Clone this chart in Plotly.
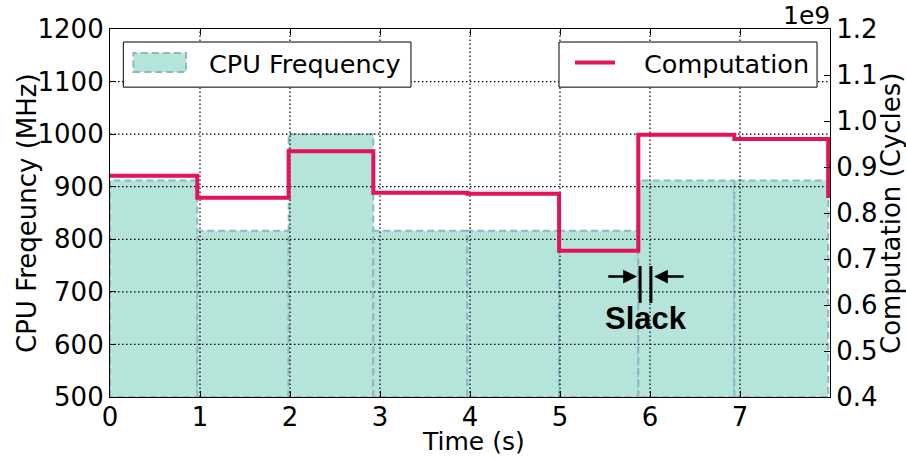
import plotly.graph_objects as go

# Segment start times (s); the last entry is where the final step occurs
seg_times = [0.0, 0.97, 1.985, 2.926, 3.97, 4.99, 5.87, 6.937, 7.98]
# CPU frequency per segment (MHz)
cpu_freq = [912, 816, 1000, 816, 816, 816, 912, 912]
# Computation per segment (cycles); last value applies after the final step
computation = [0.881e9, 0.833e9, 0.934e9, 0.844e9, 0.842e9, 0.718e9, 0.970e9, 0.961e9, 0.837e9]

x_ticks = [0, 1, 2, 3, 4, 5, 6, 7]
freq_ticks = [500, 600, 700, 800, 900, 1000, 1100, 1200]
cycle_ticks = [0.4e9, 0.5e9, 0.6e9, 0.7e9, 0.8e9, 0.9e9, 1.0e9, 1.1e9, 1.2e9]
cycle_tick_text = ["0.4", "0.5", "0.6", "0.7", "0.8", "0.9", "1.0", "1.1", "1.2"]

# Slack marker bounds (s), arrow height and label height (MHz)
slack_bounds = [5.89, 6.01]
slack_span = [679, 749]
slack_arrow_y = 729
slack_label_y = 650

X_MAX = 8.0
FREQ_RANGE = [500, 1200]
CYCLE_RANGE = [0.4e9, 1.2e9]

FONT = "DejaVu Sans"
FS = 26
FILL = "#b4e4da"
EDGE = "#8fb6c4"
PINK = "#e2125c"

fig = go.Figure()

# Frequency bars: one closed, dashed-outline polygon per segment
for i, f in enumerate(cpu_freq):
    x0, x1 = seg_times[i], seg_times[i + 1]
    base = FREQ_RANGE[0]
    fig.add_trace(go.Scatter(
        x=[x0, x0, x1, x1, x0], y=[base, f, f, base, base],
        mode="lines", fill="toself", fillcolor=FILL,
        line=dict(color=EDGE, width=2, dash="7px,4px"),
        hoverinfo="skip", showlegend=False, xaxis="x", yaxis="y",
    ))

# Dotted grid drawn over the bars
gx, gy = [], []
for t in x_ticks[1:]:
    gx += [t, t, None]
    gy += [FREQ_RANGE[0], FREQ_RANGE[1], None]
for v in freq_ticks[1:-1]:
    gx += [0, X_MAX, None]
    gy += [v, v, None]
fig.add_trace(go.Scatter(
    x=gx, y=gy, mode="lines",
    line=dict(color="black", width=1.2, dash="1.5px,2.5px"),
    hoverinfo="skip", showlegend=False, xaxis="x", yaxis="y",
))

# Computation step line on the secondary axis
line_x = seg_times + [X_MAX]
line_y = computation + [computation[-1]]
fig.add_trace(go.Scatter(
    x=line_x, y=line_y, mode="lines", line_shape="hv",
    line=dict(color=PINK, width=4),
    hoverinfo="skip", showlegend=False, xaxis="x", yaxis="y2",
))

shapes = []
annotations = []

# Slack markers
for sx in slack_bounds:
    shapes.append(dict(type="line", xref="x", yref="y",
                       x0=sx, x1=sx, y0=slack_span[0], y1=slack_span[1],
                       line=dict(color="black", width=3), layer="above"))
annotations.append(dict(x=slack_bounds[0] - 0.035, y=slack_arrow_y, ax=slack_bounds[0] - 0.37,
                        ay=slack_arrow_y, xref="x", yref="y", axref="x", ayref="y",
                        text="", showarrow=True, arrowhead=2, arrowsize=1.1,
                        arrowwidth=2.5, arrowcolor="black"))
annotations.append(dict(x=slack_bounds[1] + 0.035, y=slack_arrow_y, ax=slack_bounds[1] + 0.38,
                        ay=slack_arrow_y, xref="x", yref="y", axref="x", ayref="y",
                        text="", showarrow=True, arrowhead=2, arrowsize=1.1,
                        arrowwidth=2.5, arrowcolor="black"))
annotations.append(dict(x=sum(slack_bounds) / 2, y=slack_label_y, xref="x", yref="y",
                        xanchor="center", yanchor="middle",
                        text="<b>Slack</b>", showarrow=False,
                        font=dict(family="Liberation Sans", size=31, color="black")))

# Legend boxes
shapes.append(dict(type="rect", xref="paper", yref="paper", x0=0.0185, x1=0.418,
                   y0=0.842, y1=0.9646, fillcolor="white",
                   line=dict(color="black", width=1), layer="above"))
shapes.append(dict(type="rect", xref="paper", yref="paper", x0=0.0324, x1=0.1056,
                   y0=0.883, y1=0.9347, fillcolor=FILL,
                   line=dict(color=EDGE, width=2, dash="7px,4px"), layer="above"))
annotations.append(dict(x=0.1343, y=0.906, xref="paper", yref="paper", xanchor="left",
                        yanchor="middle", text="CPU Frequency", showarrow=False,
                        font=dict(family=FONT, size=25.5, color="black")))
shapes.append(dict(type="rect", xref="paper", yref="paper", x0=0.6236, x1=0.982,
                   y0=0.842, y1=0.9646, fillcolor="white",
                   line=dict(color="black", width=1), layer="above"))
shapes.append(dict(type="line", xref="paper", yref="paper", x0=0.6458, x1=0.7014,
                   y0=0.9091, y1=0.9091, line=dict(color=PINK, width=4), layer="above"))
annotations.append(dict(x=0.7385, y=0.906, xref="paper", yref="paper", xanchor="left",
                        yanchor="middle", text="Computation", showarrow=False,
                        font=dict(family=FONT, size=25.5, color="black")))

# Axis titles and offset label
annotations.append(dict(x=-0.1153, y=0.5, xref="paper", yref="paper", textangle=-90,
                        xanchor="center", yanchor="middle",
                        text="CPU Freqeuncy (MHz)", showarrow=False,
                        font=dict(family=FONT, size=FS, color="black")))
annotations.append(dict(x=1.0847, y=0.5, xref="paper", yref="paper", textangle=-90,
                        xanchor="center", yanchor="middle",
                        text="Computation (Cycles)", showarrow=False,
                        font=dict(family=FONT, size=FS, color="black")))
annotations.append(dict(x=0.5048, y=-0.12, xref="paper", yref="paper",
                        xanchor="center", yanchor="middle", borderpad=0,
                        text="Time (s)", showarrow=False,
                        font=dict(family=FONT, size=25, color="black")))
annotations.append(dict(x=1.003, y=1.038, xref="paper", yref="paper", xanchor="right",
                        yanchor="middle", text="1e9", showarrow=False,
                        font=dict(family=FONT, size=25, color="black")))

axis_common = dict(showline=True, linecolor="black", linewidth=1.2, ticks="inside",
                   ticklen=6, tickcolor="black", showgrid=False, zeroline=False,
                   tickfont=dict(family=FONT, size=FS, color="black"))

fig.update_layout(
    width=906, height=459,
    margin=dict(l=110, r=76, t=29, b=62),
    paper_bgcolor="white", plot_bgcolor="white",
    showlegend=False,
    xaxis=dict(range=[0, X_MAX], tickvals=x_ticks, mirror="ticks",
               ticklabelstandoff=-3, **axis_common),
    yaxis=dict(range=FREQ_RANGE, tickvals=freq_ticks, **axis_common),
    yaxis2=dict(range=CYCLE_RANGE, tickvals=cycle_ticks, ticktext=cycle_tick_text,
                overlaying="y", side="right", **axis_common),
    shapes=shapes,
    annotations=annotations,
)

fig.write_html("out.html")
